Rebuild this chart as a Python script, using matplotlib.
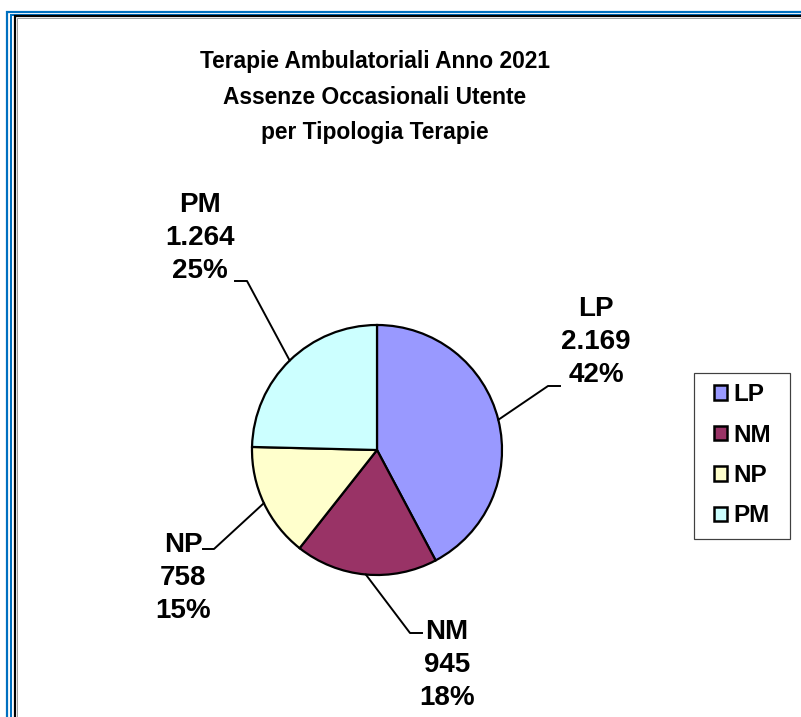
import matplotlib
matplotlib.use("Agg")
import matplotlib.pyplot as plt
from matplotlib.patches import Rectangle
import numpy as np

# --- dati ---
categorie = ["LP", "NM", "NP", "PM"]
assenze = [2169, 945, 758, 1264]
etichette_valori = ["2.169", "945", "758", "1.264"]
colori = ["#9999FF", "#993366", "#FFFFCC", "#CCFFFF"]
titolo = "Terapie Ambulatoriali Anno 2021\nAssenze Occasionali Utente\nper Tipologia Terapie"

W, H = 801, 717
plt.rcParams["font.family"] = ["Liberation Sans", "DejaVu Sans"]

fig = plt.figure(figsize=(W / 100, H / 100), dpi=100)
ax = fig.add_axes([0, 0, 1, 1])


def py(y):
    # pixel dall'alto -> coordinate dati
    return H - y


PT = 0.72  # 1 px in punti

# --- cornice (tagliata a destra e in basso) ---
cornice = [(7, 12, "#0070C0", 2.2), (11, 14.5, "#0070C0", 2.0),
           (15, 16, "#000000", 2.2), (16.8, 17.6, "#A0A0A0", 1.0)]
for xl, yt, col, lw in cornice:
    ax.plot([xl, xl, W + 10], [-10, py(yt), py(yt)], color=col,
            linewidth=lw * PT, solid_joinstyle="miter")

# --- torta ---
CX, CY, R = 377, 450, 125
totale = sum(assenze)
wedges, _ = ax.pie(assenze, colors=colori, startangle=90, counterclock=False,
                   center=(CX, py(CY)), radius=R, frame=True,
                   wedgeprops=dict(edgecolor="black", linewidth=1.6))
ax.set_xlim(0, W)
ax.set_ylim(0, H)
ax.set_aspect("equal")
ax.axis("off")

# posizioni delle etichette (pixel) e gomiti delle linee guida
testo_pos = [(596, 342), (447, 665), (183, 578), (200, 238)]
gomito = [((548, 386), (560, 386)), ((410, 633), (422, 633)),
          ((214, 549), (203, 549)), ((247, 281), (235, 281))]

inizio = 90.0
for i, w in enumerate(wedges):
    frac = assenze[i] / totale
    mid = np.deg2rad(inizio - frac * 360 / 2)
    inizio -= frac * 360
    x0 = CX + R * np.cos(mid)
    y0 = py(CY) + R * np.sin(mid)
    (gx, gy), (hx, hy) = gomito[i]
    ax.plot([x0, gx, hx], [y0, py(gy), py(hy)], color="black", linewidth=1.4)
    pct = f"{round(frac * 100):d}%"
    tx, ty = testo_pos[i]
    ax.text(tx, py(ty), f"{categorie[i]}\n{etichette_valori[i]}\n{pct}",
            ha="center", va="center", multialignment="center",
            fontsize=20, fontweight="bold", linespacing=1.37)

# --- titolo ---
ax.text(375, py(97), titolo, ha="center", va="center", multialignment="center",
        fontsize=16.4, fontweight="bold", linespacing=1.67)

# --- legenda (cornice disegnata a parte) ---
ax.add_patch(Rectangle((694, py(539)), 96, 166, fill=False,
                       edgecolor="#404040", linewidth=1.2 * PT))
leg = ax.legend(wedges, categorie, loc="upper left",
                bbox_to_anchor=(714 / W, 1 - 383 / H), bbox_transform=fig.transFigure,
                frameon=False,
                prop=dict(size=17.5, weight="bold"),
                handlelength=0.55, handleheight=0.55, handletextpad=0.25,
                labelspacing=0.72, borderpad=0, borderaxespad=0)
for h in leg.legend_handles:
    h.set_linewidth(1.8)

fig.savefig("out.png", dpi=100)
